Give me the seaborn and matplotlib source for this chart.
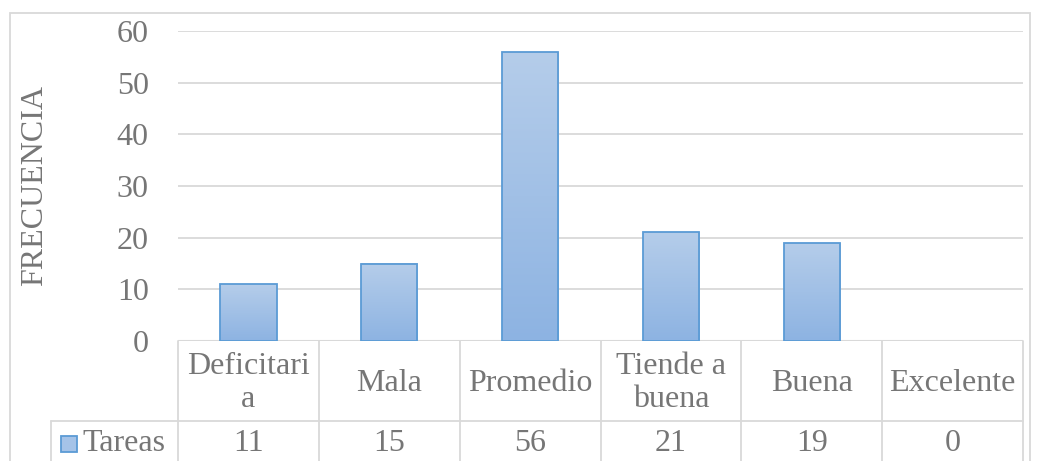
import numpy as np
import pandas as pd
import matplotlib
matplotlib.use('Agg')
import matplotlib.pyplot as plt
import seaborn as sns
from matplotlib.patches import Rectangle
from matplotlib.colors import LinearSegmentedColormap

categorias = ['Deficitaria', 'Mala', 'Promedio', 'Tiende a buena', 'Buena', 'Excelente']
etiquetas = ['Deficitari\na', 'Mala', 'Promedio', 'Tiende a\nbuena', 'Buena', 'Excelente']
tareas = [11, 15, 56, 21, 19, 0]
serie = 'Tareas'

df = pd.DataFrame({'categoria': categorias, 'frecuencia': tareas})

sns.set_style('white')
plt.rcParams['font.family'] = ['Liberation Serif', 'DejaVu Serif']
gris = '#767676'
linea = '#d9d9d9'
fs = 23

fig = plt.figure(figsize=(10.39, 4.61), dpi=100)
W, H = 1039, 461
ax = fig.add_axes([178 / W, 1 - 341 / H, (1023 - 178) / W, (341 - 31) / H])

sns.barplot(data=df, x='categoria', y='frecuencia', ax=ax, width=0.4,
            color='#a5c3e8', edgecolor='#5b9bd5', linewidth=1.3, saturation=1)

# degradado en las barras
cmap = LinearSegmentedColormap.from_list('az', ['#8db3e2', '#b5cdea'])
grad = np.linspace(0, 1, 256).reshape(-1, 1)
for p in ax.patches:
    x0, y0 = p.get_x(), p.get_y()
    w, h = p.get_width(), p.get_height()
    if h <= 0:
        p.set_linewidth(0)
        continue
    im = ax.imshow(grad, extent=[x0, x0 + w, y0, y0 + h], origin='lower', cmap=cmap,
                   aspect='auto', zorder=p.get_zorder() - 0.1)
    im.set_clip_path(p)
    p.set_facecolor('none')

ax.set_xlim(-0.5, 5.5)
ax.set_ylim(0, 60)
ax.set_yticks(range(0, 61, 10))
ax.yaxis.grid(True, color=linea, linewidth=1.3)
ax.set_axisbelow(True)
for s in ax.spines.values():
    s.set_visible(False)
ax.axhline(0, color=linea, linewidth=1.5, zorder=0)
ax.tick_params(axis='y', length=0, pad=21, labelsize=fs, labelcolor=gris)
ax.set_xticks([])
ax.set_xlabel('')
ax.set_ylabel('')


def fx(px):
    return px / W


def fy(py):
    return 1 - py / H


fig.text(fx(35), fy(186), 'FRECUENCIA', rotation=90, fontsize=fs, color=gris,
         ha='center', va='center')

# tabla de datos
col_w = (1023 - 178) / 6
kw = dict(color=linea, linewidth=1.3, transform=fig.transFigure)
for k in range(7):
    xk = 178 + k * col_w
    fig.add_artist(plt.Line2D([fx(xk), fx(xk)], [fy(341), fy(461)], **kw))
fig.add_artist(plt.Line2D([fx(51), fx(1023)], [fy(421), fy(421)], **kw))
fig.add_artist(plt.Line2D([fx(51), fx(51)], [fy(421), fy(461)], **kw))

for k, (lab, val) in enumerate(zip(etiquetas, tareas)):
    cx = 178 + (k + 0.5) * col_w
    fig.text(fx(cx), fy(383), lab, ha='center', va='center', fontsize=fs, color=gris,
             linespacing=1.2)
    fig.text(fx(cx), fy(443), str(val), ha='center', va='center', fontsize=fs, color=gris)

fig.add_artist(Rectangle((fx(61), fy(452)), fx(16), 16 / H, transform=fig.transFigure,
                         facecolor='#a5c3e8', edgecolor='#5b9bd5', linewidth=1.3))
fig.text(fx(82), fy(443), serie, ha='left', va='center', fontsize=fs, color=gris)

# borde del gráfico
fig.add_artist(Rectangle((fx(10), fy(470)), fx(1020), 457 / H, transform=fig.transFigure,
                         facecolor='none', edgecolor=linea, linewidth=1.3))

fig.savefig('out.png', dpi=100)
